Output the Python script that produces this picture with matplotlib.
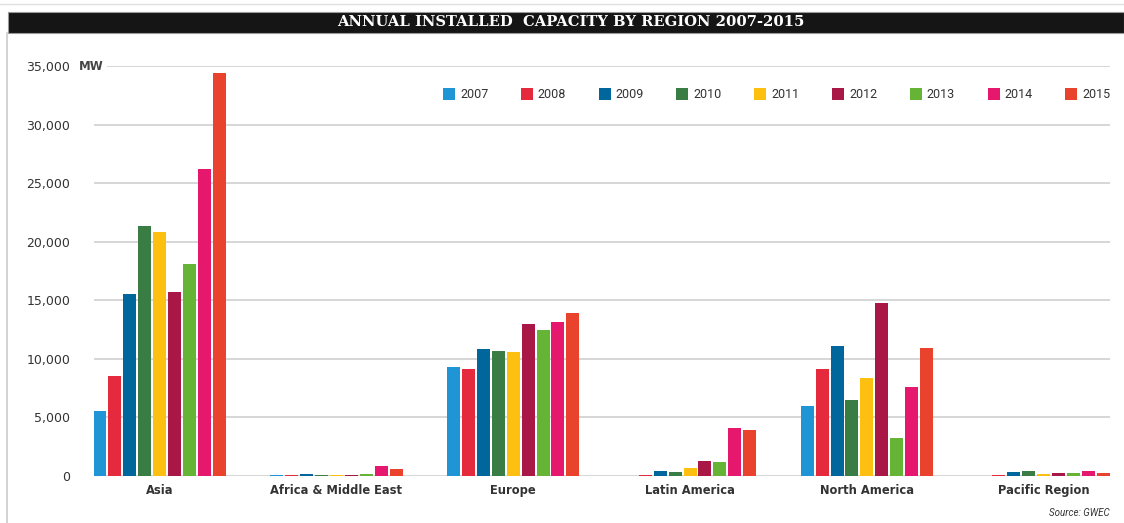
import matplotlib
matplotlib.use("Agg")
import matplotlib.pyplot as plt
from matplotlib.patches import Rectangle
from matplotlib.lines import Line2D
import numpy as np

# Annual installed wind capacity (MW) by region, 2007-2015
regions = ["Asia", "Africa & Middle East", "Europe", "Latin America",
           "North America", "Pacific Region"]
years = ["2007", "2008", "2009", "2010", "2011", "2012", "2013", "2014", "2015"]

mw_2007 = [5540, 50, 9300, 30, 5980, 30]
mw_2008 = [8520, 50, 9110, 100, 9170, 120]
mw_2009 = [15560, 180, 10820, 400, 11120, 370]
mw_2010 = [21350, 120, 10660, 370, 6520, 460]
mw_2011 = [20860, 80, 10580, 680, 8370, 180]
mw_2012 = [15670, 100, 12950, 1270, 14790, 250]
mw_2013 = [18140, 150, 12450, 1200, 3240, 250]
mw_2014 = [26200, 830, 13160, 4070, 7630, 430]
mw_2015 = [34400, 620, 13880, 3920, 10960, 250]
series = [mw_2007, mw_2008, mw_2009, mw_2010, mw_2011,
          mw_2012, mw_2013, mw_2014, mw_2015]

colors = ["#1f95d5", "#e62a3d", "#00669b", "#3a7d44", "#fdc010",
          "#a81746", "#66b435", "#e6186e", "#e9432e"]

yticks = [0, 5000, 10000, 15000, 20000, 25000, 30000, 35000]

W, H = 1124, 523
fig = plt.figure(figsize=(W / 100, H / 100), dpi=100)
fig.patch.set_facecolor("white")

narrow = ["Roboto", "DejaVu Sans"]
text_col = "#333333"

# plotting area
ax = fig.add_axes([94 / W, (H - 476) / H, (1110 - 94) / W, (476 - 66) / H])
ax.set_facecolor("white")
ax.set_xlim(-0.371, 5.375)
ax.set_ylim(0, 35000)
ax.set_axisbelow(True)

pitch = 0.0843
width = 0.0736
x = np.arange(len(regions))
for j, (vals, col) in enumerate(zip(series, colors)):
    ax.bar(x + (j - 4) * pitch, vals, width, color=col, zorder=3,
           edgecolor="none")

ax.set_yticks(yticks)
ax.set_yticklabels([f"{v:,}" for v in yticks], fontsize=9,
                   color=text_col, family=["DejaVu Sans"])
ax.yaxis.grid(True, color="#cfcfcf", linewidth=1.2)
ax.tick_params(axis="y", length=0, pad=17)
ax.set_xticks(x)
ax.set_xticklabels(regions, fontsize=8.3, fontweight="bold", color=text_col,
                   family=["DejaVu Sans"])
ax.tick_params(axis="x", length=0, pad=6)
for s in ax.spines.values():
    s.set_visible(False)

# unit label
fig.text(91 / W, 1 - 66 / H, "MW", ha="center", va="center", fontsize=8.5,
         fontweight="bold", color="#444444", family=["DejaVu Sans"],
         bbox=dict(facecolor="white", edgecolor="none", pad=2.5))

# legend row
leg_y = 94
for k, (yr, col) in enumerate(zip(years, colors)):
    lx = 443 + k * 77.8
    fig.patches.append(Rectangle((lx / W, 1 - (leg_y + 6) / H), 12 / W, 12 / H,
                                 transform=fig.transFigure, facecolor=col,
                                 edgecolor="none"))
    fig.text((lx + 17) / W, 1 - leg_y / H, yr, ha="left", va="center",
             fontsize=9, color=text_col, family=narrow)

# title band
fig.patches.append(Rectangle((8 / W, 1 - 33 / H), (W - 8) / W, 21 / H,
                             transform=fig.transFigure, facecolor="#151515",
                             edgecolor="#9a9a9a", linewidth=0.8))
fig.text(571 / W, 1 - 22.5 / H, "ANNUAL INSTALLED  CAPACITY BY REGION 2007-2015",
         ha="center", va="center", fontsize=10.6, fontweight="bold",
         color="white", family=["DejaVu Serif"])

# thin frame lines
fig.lines.append(Line2D([7 / W, 7 / W], [0, 1 - 33 / H], transform=fig.transFigure,
                        color="#cccccc", linewidth=1.2))
fig.lines.append(Line2D([0, 1], [1 - 4 / H, 1 - 4 / H], transform=fig.transFigure,
                        color="#e0e0e0", linewidth=1.0))

fig.text(1110 / W, 1 - 513 / H, "Source: GWEC", ha="right", va="center",
         fontsize=7, style="italic", color=text_col, family=narrow)

fig.savefig("out.png", dpi=100)
